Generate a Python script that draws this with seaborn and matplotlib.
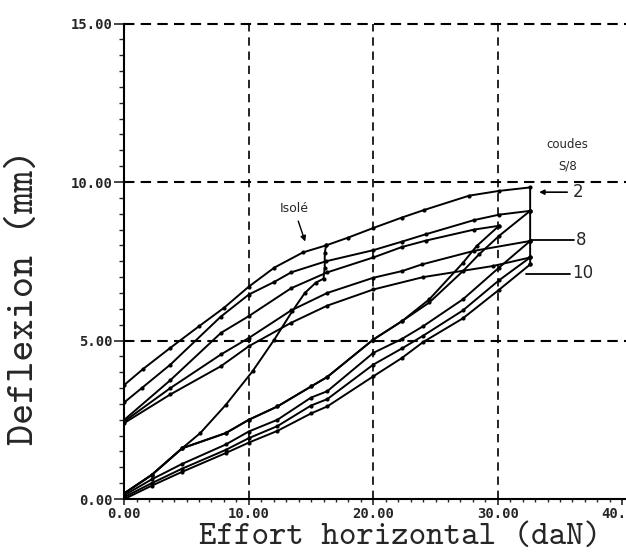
import matplotlib
matplotlib.use("Agg")
import matplotlib.pyplot as plt
import matplotlib.ticker as mticker
import seaborn as sns

# ---------------- data ----------------
# loading path of the isolated pipe ("Isolé")
isole_load_x = [0, 2.2, 4.64, 6.1, 8.15, 10.3, 12.05, 13.5, 14.5, 15.4, 16.0, 16.1, 16.1, 16.2]
isole_load_y = [0.18, 0.76, 1.6, 2.08, 2.97, 4.03, 5.03, 5.93, 6.5, 6.83, 6.95, 7.3, 7.75, 8.0]

# loop "2": loading, hold, unloading
loop2_load_x = [0, 2.2, 4.64, 8.15, 10, 12.3, 15, 16.3, 20, 22.3, 24.5, 27.2, 28.5, 30.1, 32.6]
loop2_load_y = [0.18, 0.76, 1.6, 2.08, 2.5, 2.92, 3.55, 3.85, 5.03, 5.61, 6.2, 7.19, 7.72, 8.3, 9.09]
loop2_unl_x = [32.6, 32.6, 30.1, 27.7, 24.1, 22.3, 20, 18, 16.2, 14.35, 12.05, 10, 8, 6, 3.7, 1.5, 0]
loop2_unl_y = [9.09, 9.83, 9.72, 9.57, 9.12, 8.88, 8.55, 8.25, 8.0, 7.78, 7.3, 6.7, 6.03, 5.45, 4.77, 4.1, 3.6]

# loop with maximum at 30 daN
loopc_load_x = [0, 2.2, 4.64, 8.15, 10, 12.3, 15, 16.3, 20, 22.3, 24.5, 27.2, 28.3, 30.1]
loopc_load_y = [0.18, 0.76, 1.6, 2.08, 2.5, 2.92, 3.55, 3.85, 5.03, 5.61, 6.3, 7.45, 7.98, 8.62]
loopc_unl_x = [30.1, 28.1, 24.2, 22.3, 20, 16.3, 13.4, 10, 7.76, 3.7, 0]
loopc_unl_y = [8.62, 8.5, 8.15, 7.95, 7.62, 7.15, 6.65, 5.77, 5.24, 3.75, 2.5]

load_x = [0, 2.2, 4.6, 8.15, 10, 12.3, 15, 16.3, 20, 22.3, 24, 27.2, 30.1, 32.6]

# loop "8"
loop8_load_y = [0.12, 0.62, 1.1, 1.72, 2.13, 2.5, 3.2, 3.4, 4.61, 5.05, 5.45, 6.3, 7.3, 8.14]
loop8_unl_x = [32.6, 32.6, 30.1, 28.1, 24.2, 22.3, 20, 16.2, 13.4, 12.05, 10, 7.74, 3.7, 1.4, 0]
loop8_unl_y = [8.14, 9.09, 8.97, 8.8, 8.35, 8.12, 7.85, 7.5, 7.15, 6.85, 6.45, 5.75, 4.24, 3.5, 3.05]

# intermediate loop
loopd_load_y = [0.06, 0.5, 0.95, 1.55, 1.92, 2.3, 2.95, 3.15, 4.24, 4.75, 5.15, 5.95, 6.9, 7.62]
loopd_unl_x = [32.6, 32.6, 28.1, 23.9, 22.3, 20, 16.3, 13.4, 10, 7.76, 3.7, 0]
loopd_unl_y = [7.62, 8.14, 7.83, 7.4, 7.19, 6.98, 6.5, 5.95, 5.08, 4.56, 3.5, 2.45]

# loop "10"
loop10_load_y = [0.0, 0.42, 0.85, 1.45, 1.78, 2.15, 2.7, 2.92, 3.87, 4.45, 4.95, 5.7, 6.6, 7.4]
loop10_unl_x = [32.6, 32.6, 29.6, 24, 20, 16.3, 13.4, 10, 7.76, 3.7, 0]
loop10_unl_y = [7.4, 7.62, 7.35, 7.0, 6.61, 6.1, 5.56, 4.82, 4.19, 3.3, 2.4]

x_ticks = [0, 10, 20, 30, 40]
y_ticks = [0, 5, 10, 15]
x_grid = [10, 20, 30]
y_grid = [5, 10, 15]

# ---------------- figure ----------------
sns.set_style("white")
plt.rcParams["font.family"] = ["DejaVu Sans"]

fig = plt.figure(figsize=(6.26, 5.59), dpi=100)
ax = fig.add_axes([0.1986, 0.1073, 0.8014, 0.8506])

for gx in x_grid:
    ax.axvline(gx, color="black", lw=1.2, ls=(0, (5, 3.5)), zorder=1)
for gy in y_grid:
    ax.axhline(gy, color="black", lw=1.5, ls=(0, (5, 3)), zorder=1, clip_on=False)

curves = [
    (isole_load_x, isole_load_y),
    (loop2_load_x, loop2_load_y), (loop2_unl_x, loop2_unl_y),
    (loopc_load_x, loopc_load_y), (loopc_unl_x, loopc_unl_y),
    (load_x, loop8_load_y), (loop8_unl_x, loop8_unl_y),
    (load_x, loopd_load_y), (loopd_unl_x, loopd_unl_y),
    (load_x, loop10_load_y), (loop10_unl_x, loop10_unl_y),
]
for cx, cy in curves:
    sns.lineplot(x=cx, y=cy, ax=ax, sort=False, estimator=None, color="black",
                 lw=1.4, marker="o", markersize=3, markeredgewidth=0, zorder=3)

ax.set_xlim(0, 40.3)
ax.set_ylim(0, 15)
ax.xaxis.set_major_locator(mticker.FixedLocator(x_ticks))
ax.yaxis.set_major_locator(mticker.FixedLocator(y_ticks))
ax.xaxis.set_minor_locator(mticker.MultipleLocator(1))
ax.yaxis.set_minor_locator(mticker.MultipleLocator(0.5))
ax.xaxis.set_major_formatter(mticker.FormatStrFormatter("%.2f"))
ax.yaxis.set_major_formatter(mticker.FormatStrFormatter("%.2f"))

for s in ["top", "right"]:
    ax.spines[s].set_visible(False)
for s in ["left", "bottom"]:
    ax.spines[s].set_linewidth(1.5)
    ax.spines[s].set_color("black")

ax.tick_params(axis="y", which="major", direction="out", length=7, width=1.2, pad=1.5, left=True)
ax.tick_params(axis="y", which="minor", direction="out", length=3.5, width=1.0, left=True)
ax.tick_params(axis="x", which="major", direction="out", length=4, width=1.2, pad=1.5, bottom=True)
ax.tick_params(axis="x", which="minor", direction="out", length=2.5, width=1.0, bottom=True)
for lab in ax.get_xticklabels() + ax.get_yticklabels():
    lab.set_fontfamily("DejaVu Sans Mono")
    lab.set_fontweight("bold")
    lab.set_fontsize(10)

ax.set_xlabel("Effort horizontal (daN)", fontfamily=["cmtt10", "Liberation Mono"], fontsize=24)
ax.set_ylabel("Deflexion (mm)", fontfamily=["cmtt10", "Liberation Mono"], fontsize=29)
ax.xaxis.set_label_coords(0.55, -0.050)
ax.yaxis.set_label_coords(-0.165, 0.425)

# annotations
ax.annotate("", xy=(14.6, 8.04), xytext=(13.9, 8.85),
            arrowprops=dict(arrowstyle="-|>", color="black", lw=1.0, mutation_scale=8))
ax.text(13.65, 9.18, "Isolé", fontsize=9, ha="center", va="center")
ax.text(35.6, 11.17, "coudes", fontsize=8.5, ha="center", va="center")
ax.text(35.6, 10.5, "S/8", fontsize=8.5, ha="center", va="center")

ax.annotate("", xy=(33.1, 9.68), xytext=(35.8, 9.68),
            arrowprops=dict(arrowstyle="-|>", color="black", lw=1.2, mutation_scale=7))
ax.text(36.0, 9.68, "2", fontsize=12, ha="left", va="center")
ax.plot([32.7, 36.1], [8.16, 8.16], color="black", lw=1.3)
ax.text(36.3, 8.18, "8", fontsize=12, ha="left", va="center")
ax.plot([32.3, 35.8], [7.09, 7.09], color="black", lw=1.3)
ax.text(36.0, 7.12, "10", fontsize=12, ha="left", va="center")

fig.savefig("out.png", dpi=100)
